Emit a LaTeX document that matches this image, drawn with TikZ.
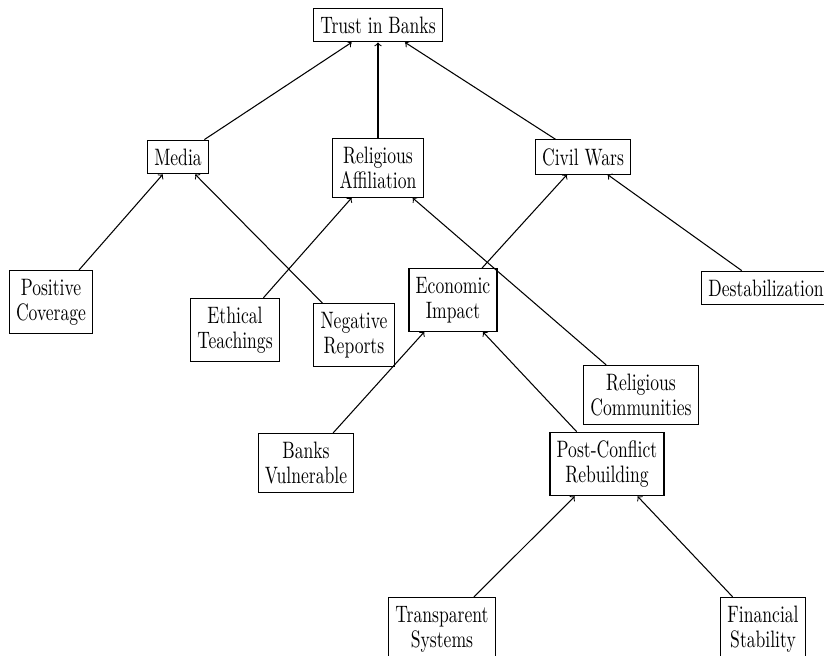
\documentclass[tikz,border=0pt]{standalone}
\newcommand{\vs}[1]{\scalebox{1}[1.35]{#1}}
\begin{document}
\begin{tikzpicture}[x=0.568pt,y=-0.568pt,
  box/.style={draw, line width=0.65pt, align=center, inner xsep=3.8pt, inner ysep=4.8pt,
    font={\fontsize{10}{14.2}\selectfont}},
  link/.style={->, line width=0.6pt}]
\path[use as bounding box, clip] (0,0) rectangle (824,656);
\node[box] (trust) at (378,25) {\vs{Trust in Banks}};
\node[box] (media) at (178,157) {\vs{Media}};
\node[box] (relig) at (378,168) {\vs{Religious}\\\vs{Affiliation}};
\node[box] (civil) at (583,157) {\vs{Civil Wars}};
\node[box] (pos) at (51,302) {\vs{Positive}\\\vs{Coverage}};
\node[box] (eth) at (235,330) {\vs{Ethical}\\\vs{Teachings}};
\node[box] (neg) at (354,335) {\vs{Negative}\\\vs{Reports}};
\node[box] (econ) at (453,300) {\vs{Economic}\\\vs{Impact}};
\node[box] (destab) at (766,288) {\vs{Destabilization}};
\node[box] (relcom) at (641,395) {\vs{Religious}\\\vs{Communities}};
\node[box] (banks) at (306,463) {\vs{Banks}\\\vs{Vulnerable}};
\node[box] (post) at (607,464) {\vs{Post-Conflict}\\\vs{Rebuilding}};
\node[box] (trans) at (442,629) {\vs{Transparent}\\\vs{Systems}};
\node[box] (fin) at (763,629) {\vs{Financial}\\\vs{Stability}};
\draw[link] (media) -- (trust);
\draw[link] (relig) -- (trust);
\draw[link] (civil) -- (trust);
\draw[link] (pos) -- (media);
\draw[link] (neg) -- (media);
\draw[link] (eth) -- (relig);
\draw[link] (relcom) -- (relig);
\draw[link] (econ) -- (civil);
\draw[link] (destab) -- (civil);
\draw[link] (banks) -- (econ);
\draw[link] (post) -- (econ);
\draw[link] (trans) -- (post);
\draw[link] (fin) -- (post);
\end{tikzpicture}
\end{document}
